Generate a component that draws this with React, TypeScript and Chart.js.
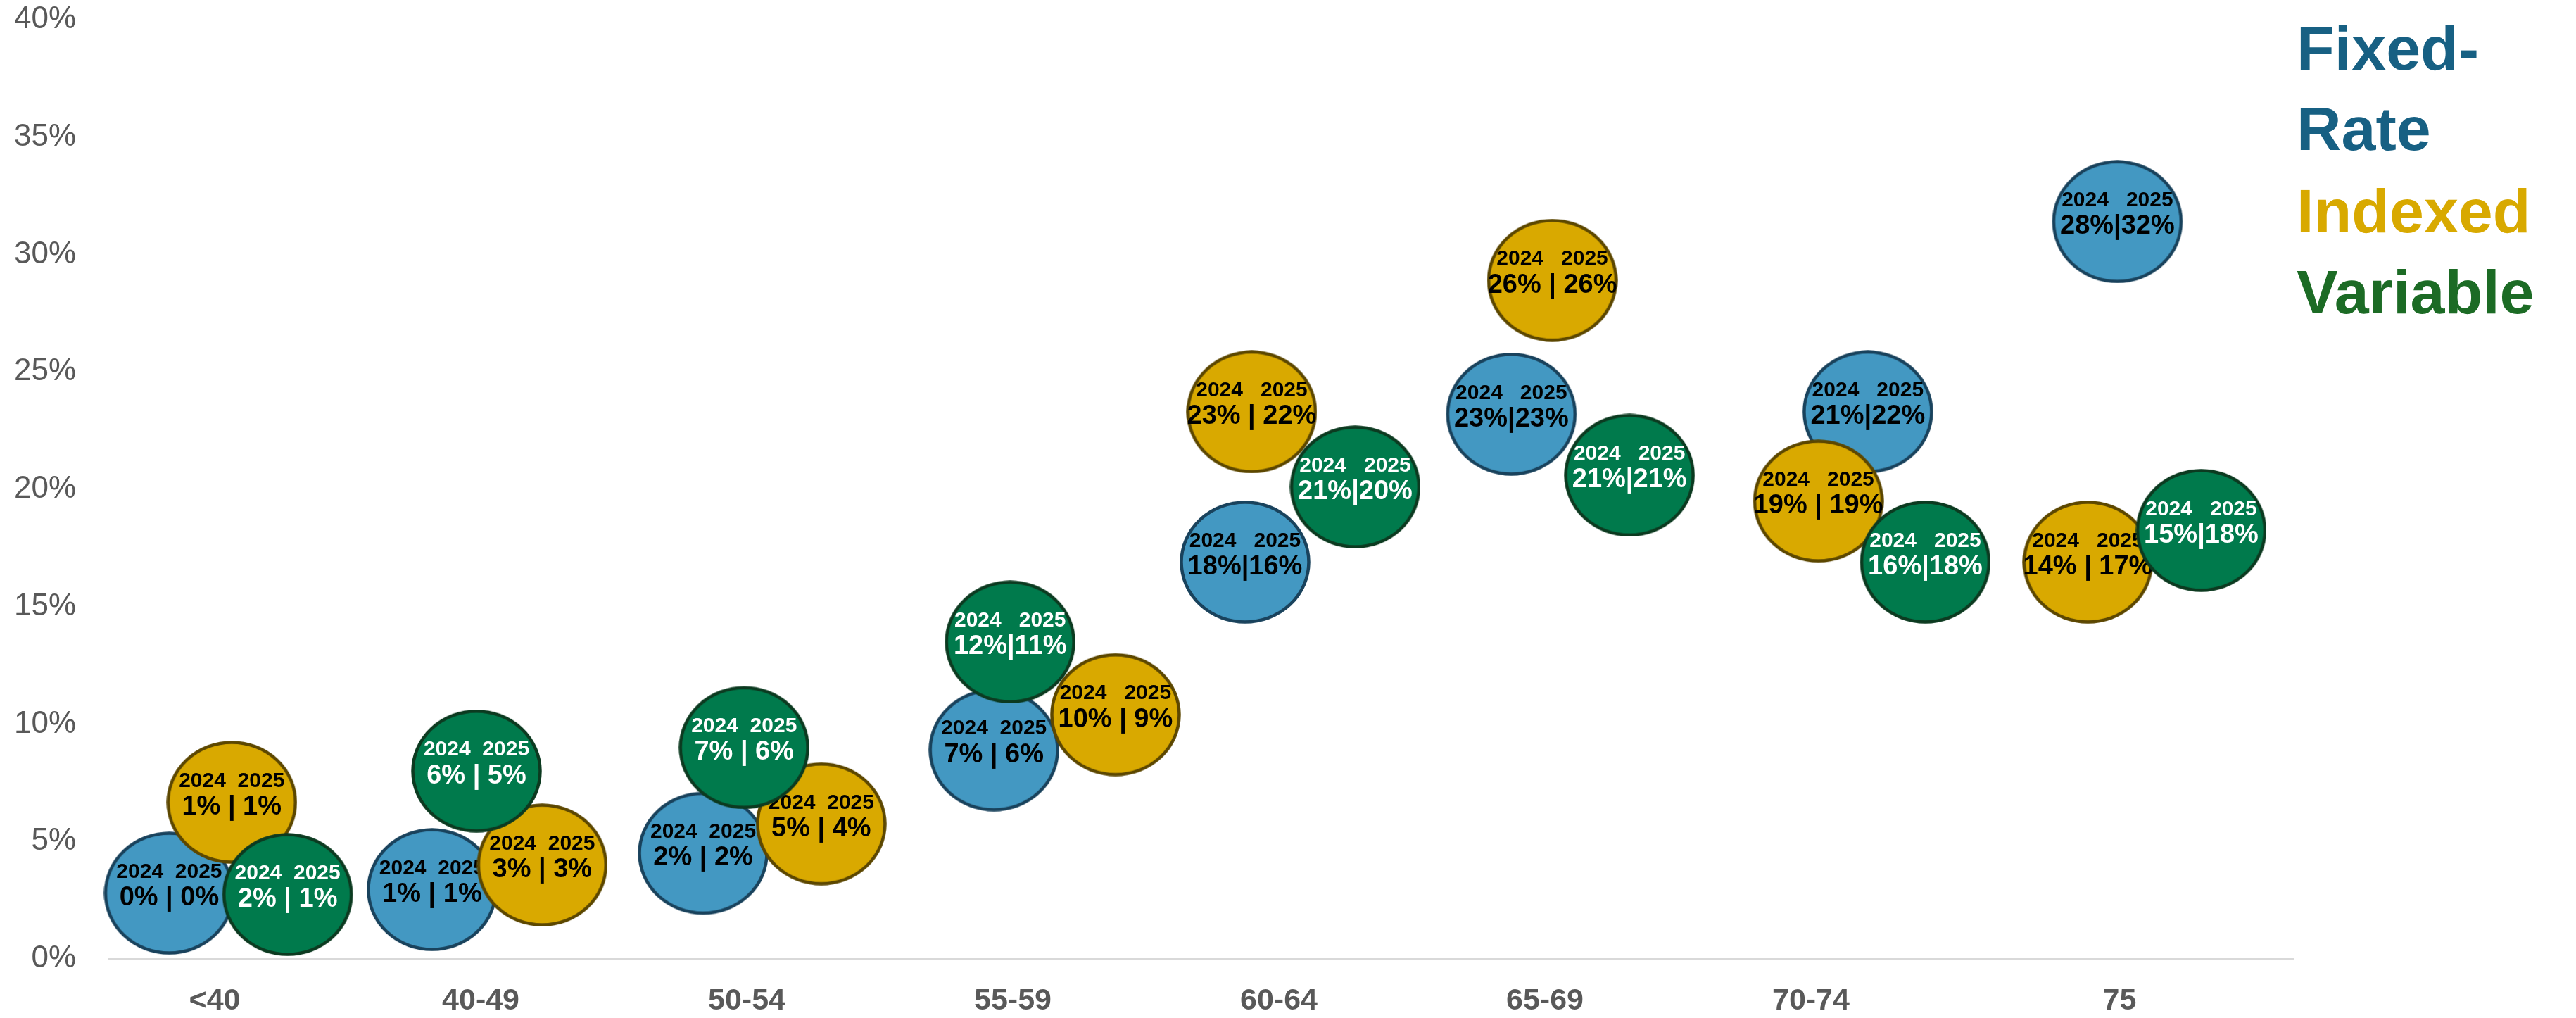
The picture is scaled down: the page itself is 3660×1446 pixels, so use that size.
import React, { useEffect, useRef } from "react";
import { Chart, registerables } from "chart.js";

Chart.register(...registerables);

// ---- data ----
const categories = ["<40", "40-49", "50-54", "55-59", "60-64", "65-69", "70-74", "75"];
const categoryPositions = [1, 2, 3, 4, 5, 6, 7, 8.16];
const yTickValues = [0, 0.05, 0.1, 0.15, 0.2, 0.25, 0.3, 0.35, 0.4];

const fixedX = [0.829, 1.817, 2.836, 3.929, 4.873, 5.874, 7.214, 8.152];
const fixedY = [0.028, 0.0295, 0.045, 0.089, 0.169, 0.232, 0.233, 0.314];
const fixed2024 = [0, 1, 2, 7, 18, 23, 21, 28];
const fixed2025 = [0, 1, 2, 6, 16, 23, 22, 32];

const indexedX = [1.064, 2.231, 3.28, 4.386, 4.898, 6.028, 7.028, 8.041];
const indexedY = [0.0667, 0.04, 0.0575, 0.104, 0.233, 0.289, 0.195, 0.169];
const indexed2024 = [1, 3, 5, 10, 23, 26, 19, 14];
const indexed2025 = [1, 3, 4, 9, 22, 26, 19, 17];

const variableX = [1.274, 1.984, 2.99, 3.99, 5.287, 6.318, 7.43, 8.467];
const variableY = [0.0274, 0.08, 0.09, 0.135, 0.201, 0.206, 0.169, 0.1825];
const variable2024 = [2, 6, 7, 12, 21, 21, 16, 15];
const variable2025 = [1, 5, 6, 11, 20, 21, 18, 18];

const seriesNames = ["Fixed-Rate", "Indexed", "Variable"];

// ---- styles ----
const FONT = "'Liberation Sans', Arial, Helvetica, sans-serif";
const W = 3660;
const H = 1446;

function makeEllipse(fill: string, stroke: string): HTMLCanvasElement {
  const c = document.createElement("canvas");
  c.width = 186;
  c.height = 175;
  const ctx = c.getContext("2d")!;
  ctx.beginPath();
  ctx.ellipse(93, 87.5, 90.5, 85, 0, 0, Math.PI * 2);
  ctx.fillStyle = fill;
  ctx.fill();
  ctx.lineWidth = 4.5;
  ctx.strokeStyle = stroke;
  ctx.stroke();
  return c;
}

function headerText(a: number, b: number) {
  return a >= 10 || b >= 10 ? "2024   2025" : "2024  2025";
}
function valueText(kind: string, a: number, b: number) {
  const two = a >= 10 || b >= 10;
  const sep = two && kind !== "Indexed" ? "|" : " | ";
  return `${a}%${sep}${b}%`;
}

export default function App() {
  const ref = useRef<HTMLCanvasElement | null>(null);

  useEffect(() => {
    document.body.style.margin = "0";
    const canvas = ref.current!;
    const mk = (xs: number[], ys: number[]) => xs.map((x, i) => ({ x, y: ys[i], r: 90 }));

    const styles = [
      { fill: "#4398C2", stroke: "#19425C", text: "#000000", order: 3, v24: fixed2024, v25: fixed2025, xs: fixedX, ys: fixedY },
      { fill: "#D9A900", stroke: "#5C4700", text: "#000000", order: 2, v24: indexed2024, v25: indexed2025, xs: indexedX, ys: indexedY },
      { fill: "#007A4C", stroke: "#0C3A20", text: "#FFFFFF", order: 1, v24: variable2024, v25: variable2025, xs: variableX, ys: variableY },
    ];

    const labelPlugin = {
      id: "bubbleLabels",
      afterDatasetDraw(chart: any, args: any) {
        const s = styles[args.index];
        const ctx = chart.ctx as CanvasRenderingContext2D;
        ctx.save();
        ctx.fillStyle = s.text;
        ctx.textAlign = "center";
        ctx.textBaseline = "middle";
        args.meta.data.forEach((el: any, i: number) => {
          const a = s.v24[i];
          const b = s.v25[i];
          ctx.font = `bold 30px ${FONT}`;
          ctx.fillText(headerText(a, b), el.x, el.y - 30);
          ctx.font = `bold 38px ${FONT}`;
          ctx.fillText(valueText(seriesNames[args.index], a, b), el.x, el.y + 7);
        });
        ctx.restore();
      },
    };

    const legendPlugin = {
      id: "sideLegend",
      afterDraw(chart: any) {
        const ctx = chart.ctx as CanvasRenderingContext2D;
        ctx.save();
        ctx.font = `bold 88px ${FONT}`;
        ctx.textAlign = "left";
        ctx.textBaseline = "alphabetic";
        const x = 3263;
        ctx.fillStyle = "#176083";
        ctx.fillText("Fixed-", x, 99);
        ctx.fillText("Rate", x, 213);
        ctx.fillStyle = "#D8A900";
        ctx.fillText("Indexed", x, 330);
        ctx.fillStyle = "#1C6B25";
        ctx.fillText("Variable", x, 445);
        ctx.restore();
      },
    };

    const chart = new Chart(canvas, {
      type: "bubble",
      data: {
        datasets: styles.map((s, i) => ({
          label: seriesNames[i],
          data: mk(s.xs, s.ys),
          pointStyle: makeEllipse(s.fill, s.stroke) as any,
          backgroundColor: s.fill,
          borderColor: s.stroke,
          order: s.order,
          clip: false as any,
        })),
      },
      options: {
        responsive: false,
        animation: false,
        events: [],
        layout: { autoPadding: false, padding: { left: 0, top: 28, right: 401, bottom: 0 } },
        plugins: {
          legend: { display: false },
          tooltip: { enabled: false },
        },
        scales: {
          x: {
            type: "linear",
            min: 0.603,
            max: 8.815,
            grid: { display: false, drawTicks: false },
            border: { display: true, color: "#D9D9D9", width: 2.5 },
            afterBuildTicks: (scale: any) => {
              scale.ticks = categoryPositions.map((v) => ({ value: v }));
            },
            afterFit: (scale: any) => {
              scale.height = 84;
              scale.paddingLeft = 0;
              scale.paddingRight = 0;
            },
            ticks: {
              autoSkip: false,
              maxRotation: 0,
              padding: 34,
              color: "#595959",
              font: { family: FONT, size: 43, weight: "bold" },
              callback: (_v: any, i: number) => categories[i],
            },
          },
          y: {
            type: "linear",
            min: 0,
            max: 0.4,
            grid: { display: false, drawTicks: true, tickLength: 47 },
            border: { display: false },
            afterBuildTicks: (scale: any) => {
              scale.ticks = yTickValues.map((v) => ({ value: v }));
            },
            afterFit: (scale: any) => {
              scale.width = 155;
              scale.paddingTop = 0;
              scale.paddingBottom = 0;
            },
            ticks: {
              padding: 0,
              color: "#595959",
              font: { family: FONT, size: 44 },
              callback: (v: any) => `${Math.round(Number(v) * 100)}%`,
            },
          },
        },
      },
      plugins: [labelPlugin, legendPlugin],
    });

    return () => chart.destroy();
  }, []);

  return (
    <div style={{ position: "absolute", left: 0, top: 0, width: W, height: H, background: "#FFFFFF" }}>
      <canvas ref={ref} width={W} height={H} style={{ width: W, height: H, display: "block" }} />
    </div>
  );
}
